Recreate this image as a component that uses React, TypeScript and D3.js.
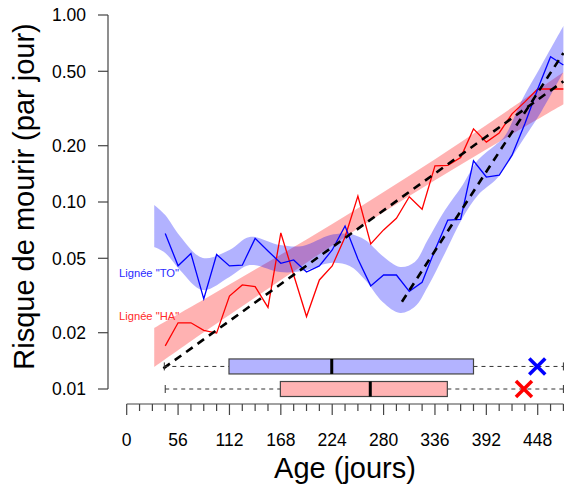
import React from "react";
import * as d3 from "d3";

const ages = [42, 56, 70, 84, 98, 112, 126, 140, 154, 168, 182, 196, 210, 224, 238, 252, 266, 280, 294, 308, 322, 336, 350, 364, 378, 392, 406, 420, 434, 448, 462, 476];
const toValues = [0.0679, 0.0456, 0.053, 0.0303, 0.0524, 0.0455, 0.0459, 0.0639, 0.0547, 0.047, 0.049, 0.0422, 0.0455, 0.0554, 0.0744, 0.0496, 0.0356, 0.0407, 0.0407, 0.0333, 0.0372, 0.0554, 0.0801, 0.0808, 0.166, 0.136, 0.139, 0.178, 0.262, 0.402, 0.598, 0.54];
const haValues = [0.017, 0.0226, 0.0226, 0.0206, 0.0199, 0.0314, 0.036, 0.0353, 0.0273, 0.0683, 0.0407, 0.0244, 0.0383, 0.0455, 0.065, 0.1077, 0.0596, 0.0709, 0.0818, 0.1067, 0.0914, 0.156, 0.157, 0.173, 0.246, 0.209, 0.234, 0.296, 0.343, 0.402, 0.402, 0.402];

const toBandAges = [30, 42, 58, 83, 112, 134, 167, 192, 222, 243, 260, 279, 298, 314, 328, 347, 366, 383, 402, 412, 432, 451, 476];
const toBandHi = [0.0964, 0.0852, 0.0658, 0.0502, 0.0554, 0.065, 0.0589, 0.0582, 0.0666, 0.0674, 0.0626, 0.0514, 0.0449, 0.0478, 0.0626, 0.0906, 0.123, 0.168, 0.202, 0.225, 0.36, 0.527, 0.873];
const toBandLo = [0.0574, 0.0534, 0.0433, 0.0338, 0.0397, 0.046, 0.0422, 0.0428, 0.0472, 0.0455, 0.0383, 0.0292, 0.0255, 0.0275, 0.0351, 0.0534, 0.0821, 0.109, 0.131, 0.152, 0.215, 0.299, 0.496];

const haBandAges = [30, 84, 140, 196, 252, 308, 364, 420, 476];
const haBandHi = [0.0212, 0.0301, 0.0435, 0.0631, 0.0927, 0.138, 0.209, 0.32, 0.494];
const haBandLo = [0.0131, 0.0201, 0.0309, 0.0474, 0.0721, 0.1077, 0.158, 0.23, 0.333];

const haFitAges = [40, 476];
const haFitValues = [0.0129, 0.442];
const toFitAges = [300, 476];
const toFitValues = [0.0293, 0.626];

// boxplots: [whiskerLo, Q1, median, Q3, whiskerHi], row level, cross mark age
const toBox = [41, 111.5, 223.5, 378, 476];
const haBox = [42, 167.5, 265.5, 349.5, 476];
const boxLevels = [0.0132, 0.01];
const crossAges = [447.5, 433];

const yTicks = [0.01, 0.02, 0.05, 0.1, 0.2, 0.5, 1.0];
const yTickLabels = ["0.01", "0.02", "0.05", "0.10", "0.20", "0.50", "1.00"];
const xMajorTicks = [0, 56, 112, 168, 224, 280, 336, 392, 448];

const BLUE = "#0000ff";
const RED = "#ff0000";
const FONT = "'Liberation Sans', Arial, Helvetica, sans-serif";

export default function App() {
  const W = 564, H = 488;
  const x = d3.scaleLinear().domain([0, 476]).range([126.7, 563.4]);
  const y = d3.scaleLog().domain([0.01, 1]).range([389, 15]);

  const minorTicks = d3.range(0, 477, 14);

  const line = d3.line<[number, number]>().x(d => x(d[0])).y(d => y(d[1]));
  const band = d3
    .area<[number, number, number]>()
    .x(d => x(d[0]))
    .y0(d => y(d[1]))
    .y1(d => y(d[2]))
    .curve(d3.curveCatmullRom.alpha(0.5));

  const toBandData = toBandAges.map((a, i) => [a, toBandLo[i], toBandHi[i]] as [number, number, number]);
  const haBandData = haBandAges.map((a, i) => [a, haBandLo[i], haBandHi[i]] as [number, number, number]);
  const toLine = ages.map((a, i) => [a, toValues[i]] as [number, number]);
  const haLine = ages.map((a, i) => [a, haValues[i]] as [number, number]);
  const haFit = haFitAges.map((a, i) => [a, haFitValues[i]] as [number, number]);
  const toFit = toFitAges.map((a, i) => [a, toFitValues[i]] as [number, number]);

  const boxes = [
    { stats: toBox, level: boxLevels[0], fill: "#b3b3ff", cross: crossAges[0], color: BLUE },
    { stats: haBox, level: boxLevels[1], fill: "#ffb3b3", cross: crossAges[1], color: RED },
  ];

  const boxH = 15;
  const cs = 8;

  return (
    <svg width={W} height={H} style={{ position: "absolute", left: 0, top: 0, background: "#fff" }}>
      {/* bands */}
      <path d={band(haBandData) || ""} fill="rgba(255,0,0,0.3)" stroke="none" />
      <path d={band(toBandData) || ""} fill="rgba(0,0,255,0.3)" stroke="none" />
      {/* data lines */}
      <path d={line(haLine) || ""} fill="none" stroke={RED} strokeWidth={1.3} />
      <path d={line(toLine) || ""} fill="none" stroke={BLUE} strokeWidth={1.3} />
      {/* fits */}
      <path d={line(haFit) || ""} fill="none" stroke="#000" strokeWidth={2.6} strokeDasharray="8,6" />
      <path d={line(toFit) || ""} fill="none" stroke="#000" strokeWidth={2.6} strokeDasharray="8,6" />

      {/* boxplots */}
      {boxes.map((b, i) => {
        const cy = y(b.level);
        const [lo, q1, med, q3, hi] = b.stats;
        return (
          <g key={i}>
            <line x1={x(lo)} x2={x(q1)} y1={cy} y2={cy} stroke="#333" strokeWidth={1} strokeDasharray="4,4" />
            <line x1={x(q3)} x2={x(hi)} y1={cy} y2={cy} stroke="#333" strokeWidth={1} strokeDasharray="4,4" />
            <line x1={x(lo)} x2={x(lo)} y1={cy - 4} y2={cy + 4} stroke="#333" strokeWidth={1} />
            <line x1={x(hi)} x2={x(hi)} y1={cy - 4} y2={cy + 4} stroke="#333" strokeWidth={1} />
            <rect x={x(q1)} y={cy - boxH / 2} width={x(q3) - x(q1)} height={boxH} fill={b.fill} stroke="#444" strokeWidth={1.2} />
            <line x1={x(med)} x2={x(med)} y1={cy - boxH / 2} y2={cy + boxH / 2} stroke="#000" strokeWidth={3} />
            <line x1={x(b.cross) - cs} x2={x(b.cross) + cs} y1={cy - cs} y2={cy + cs} stroke={b.color} strokeWidth={3.5} />
            <line x1={x(b.cross) - cs} x2={x(b.cross) + cs} y1={cy + cs} y2={cy - cs} stroke={b.color} strokeWidth={3.5} />
          </g>
        );
      })}

      {/* y axis */}
      <line x1={108} x2={108} y1={y(0.01)} y2={y(1)} stroke="#444" strokeWidth={1.2} />
      {yTicks.map((t, i) => (
        <g key={t}>
          <line x1={98} x2={108} y1={y(t)} y2={y(t)} stroke="#444" strokeWidth={1.2} />
          <text x={86} y={y(t)} dy="0.36em" textAnchor="end" fontFamily={FONT} fontSize={17.5} fill="#000">
            {yTickLabels[i]}
          </text>
        </g>
      ))}

      {/* x axis */}
      <line x1={x(0)} x2={x(476)} y1={404} y2={404} stroke="#444" strokeWidth={1.2} />
      {minorTicks.map(t => (
        <line key={"m" + t} x1={x(t)} x2={x(t)} y1={404} y2={xMajorTicks.includes(t) ? 415 : 411} stroke="#444" strokeWidth={1.2} />
      ))}
      {xMajorTicks.map(t => (
        <text key={"l" + t} x={x(t)} y={446} textAnchor="middle" fontFamily={FONT} fontSize={17.5} fill="#000">
          {t}
        </text>
      ))}

      {/* legend labels */}
      <text x={119} y={277} fontFamily={FONT} fontSize={11.2} fill="#2a2aff">Lignée "TO"</text>
      <text x={119} y={320} fontFamily={FONT} fontSize={11.2} fill="#ff2a2a">Lignée "HA"</text>

      {/* titles */}
      <text x={345} y={478} textAnchor="middle" fontFamily={FONT} fontSize={29} fill="#000">Age (jours)</text>
      <text transform="translate(34,196.5) rotate(-90)" textAnchor="middle" fontFamily={FONT} fontSize={29} fill="#000">
        Risque de mourir (par jour)
      </text>
    </svg>
  );
}
